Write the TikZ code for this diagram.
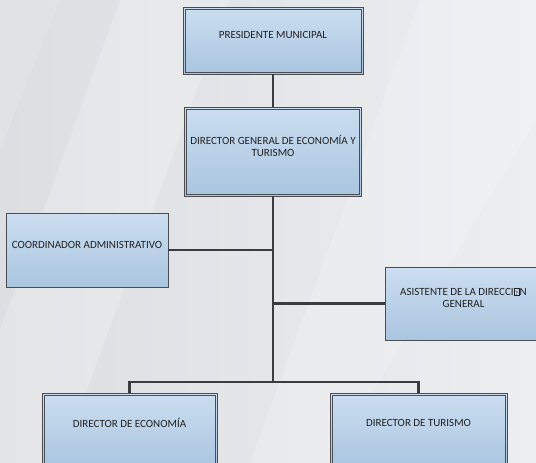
\documentclass[tikz,border=0pt]{standalone}
\usepackage{fontspec}
\setmainfont{Carlito}
\definecolor{bgA}{HTML}{DCDEE1}
\definecolor{bgB}{HTML}{ECEEF0}
\definecolor{boxTop}{HTML}{CCDEF0}
\definecolor{boxBot}{HTML}{A9C5E0}
\definecolor{edge}{HTML}{4A4D52}
\definecolor{wire}{HTML}{3A3C40}
\definecolor{ink}{HTML}{222222}
% a boxed question mark standing in for a glyph the font lacks
\newcommand\nochar{{\setlength\fboxsep{0pt}\setlength\fboxrule{0.4pt}\fbox{\makebox[5.2pt]{\rule{0pt}{6.8pt}\fontsize{6}{6}\selectfont ?}}}}
\tikzset{
  orgbox/.style={rectangle, draw=edge, line width=0.7pt, top color=boxTop, bottom color=boxBot, inner sep=0pt},
  innerframe/.style={draw=edge, line width=0.6pt},
  caption/.style={font=\fontsize{11}{12}\selectfont, text=ink, align=center, inner sep=0pt},
  wireline/.style={draw=wire, line width=2.4pt}
}
\newcommand\frameinside[1]{\draw[innerframe] ([shift={(2.3pt,-2.3pt)}]#1.north west) rectangle ([shift={(-2.3pt,2.3pt)}]#1.south east);}
\begin{document}
\begin{tikzpicture}[x=1pt, y=-1pt]
\useasboundingbox (0,0) rectangle (536,463);
\begin{scope}
\clip (0,0) rectangle (536,463);
% backdrop with soft diagonal highlights
\shade[left color=bgA, right color=bgB] (0,0) rectangle (536,463);
\fill[white, opacity=0.22] (120,0) -- (230,0) -- (60,463) -- (0,463) -- (0,330) -- cycle;
\fill[white, opacity=0.18] (420,0) -- (536,0) -- (536,120) -- (330,463) -- (250,463) -- cycle;
\fill[white, opacity=0.12] (0,0) -- (60,0) -- (0,150) -- cycle;

% boxes
\node[orgbox, minimum width=180pt, minimum height=67pt] (pres) at (273,40.5) {};
\node[orgbox, minimum width=177pt, minimum height=89pt] (dg) at (273,151.5) {};
\node[orgbox, minimum width=162pt, minimum height=74pt] (coord) at (87,250) {};
\node[orgbox, minimum width=157pt, minimum height=73pt] (asis) at (463.5,303.5) {};
\node[orgbox, minimum width=175pt, minimum height=74pt] (econ) at (129.5,430) {};
\node[orgbox, minimum width=177pt, minimum height=74pt] (tur) at (418.5,430) {};
\frameinside{pres}
\frameinside{dg}
\frameinside{econ}
\frameinside{tur}

% captions
\node[caption] (presT) at ([yshift=5.5pt]pres.center) {PRESIDENTE MUNICIPAL};
\node[caption] (dgT) at ([yshift=5.5pt]dg.center) {DIRECTOR GENERAL DE ECONOMÍA Y\\TURISMO};
\node[caption] (coordT) at ([yshift=5pt]coord.center) {COORDINADOR ADMINISTRATIVO};
\node[caption] (asisT) at ([yshift=6pt]asis.center) {ASISTENTE DE LA DIRECCI\nochar N\\GENERAL};
\node[caption] (econT) at ([yshift=7pt]econ.center) {DIRECTOR DE ECONOMÍA};
\node[caption] (turT) at ([yshift=7pt]tur.center) {DIRECTOR DE TURISMO};

% connectors
\coordinate (hub) at (273,382);
\draw[wireline] (pres.south) -- (dg.north);
\draw[wireline] (dg.south) -- (hub);
\draw[wireline] (coord.east) -- (coord.east -| dg.south);
\draw[wireline] (asis.west -| dg.south) -- (asis.west);
\draw[wireline] (econ.north) |- (hub) -| (tur.north);
\end{scope}
\end{tikzpicture}
\end{document}
